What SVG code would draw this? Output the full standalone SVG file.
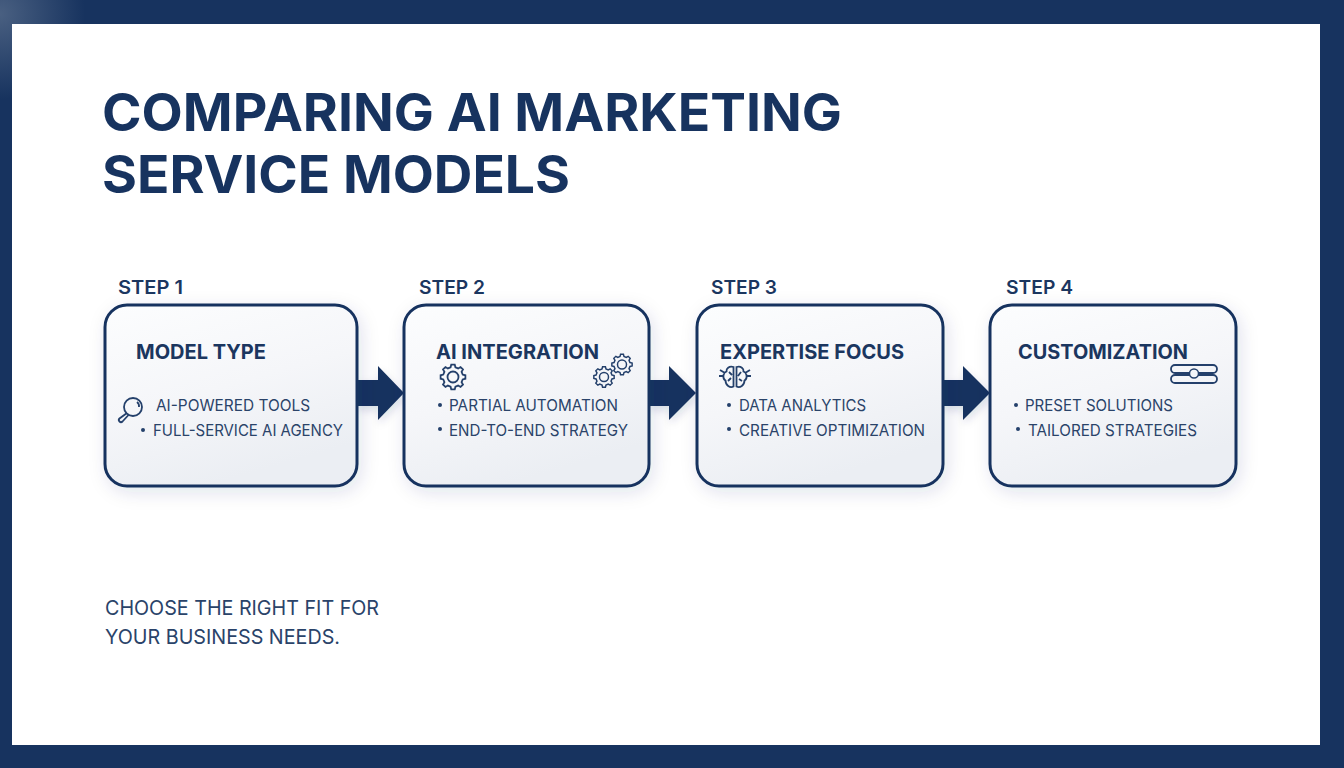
<svg xmlns="http://www.w3.org/2000/svg" width="1344" height="768" viewBox="0 0 1344 768">
<style>
text{font-family:"Inter","Noto Sans","Liberation Sans",sans-serif;fill:#1b365f}
.title{font-size:52px;font-weight:700;fill:#17335f}
.step{font-size:19px;font-weight:600}
.head{font-size:20px;font-weight:700}
.item{font-size:16px;font-weight:400;fill:#2a4369}
.foot{font-size:20px;font-weight:400;fill:#2a4369}
.card{fill:url(#cardFill);stroke:#17335f;stroke-width:3;filter:url(#soft)}
.ico{fill:none;stroke:#24406b;stroke-width:1.8}
.arrow{fill:#17335f;filter:url(#arrowSoft)}
.dot{fill:#24406b}
</style>
<defs>
<linearGradient id="cardFill" x1="0" y1="0" x2="0.4" y2="1"><stop offset="0" stop-color="#fcfdfe"/><stop offset="0.55" stop-color="#f5f6f9"/><stop offset="1" stop-color="#ebeef3"/></linearGradient>
<radialGradient id="glow" gradientUnits="userSpaceOnUse" cx="0" cy="14" r="85"><stop offset="0" stop-color="#5f7390" stop-opacity="0.7"/><stop offset="1" stop-color="#5f7390" stop-opacity="0"/></radialGradient>
<filter id="soft" x="-15%" y="-15%" width="130%" height="130%"><feDropShadow dx="3" dy="5" stdDeviation="9" flood-color="#17335f" flood-opacity="0.12"/></filter>
<filter id="arrowSoft" x="-20%" y="-20%" width="140%" height="150%"><feDropShadow dx="1" dy="4" stdDeviation="4" flood-color="#17335f" flood-opacity="0.15"/></filter>
<g id="gear"><path class="ico" d="M9.7-2.42L12.38-1.74V1.74L9.7 2.42L8.57 5.15L9.98 7.52L7.52 9.98L5.15 8.57L2.42 9.7L1.74 12.38H-1.74L-2.42 9.7L-5.15 8.57L-7.52 9.98L-9.98 7.52L-8.57 5.15L-9.7 2.42L-12.38 1.74V-1.74L-9.7-2.42L-8.57-5.15L-9.98-7.52L-7.52-9.98L-5.15-8.57L-2.42-9.7L-1.74-12.38H1.74L2.42-9.7L5.15-8.57L7.52-9.98L9.98-7.52L8.57-5.15Z"/><circle r="5.5" class="ico"/></g>
</defs>
<rect width="1344" height="768" fill="#17335f"/>
<rect width="90" height="100" fill="url(#glow)"/>
<rect x="12" y="24" width="1308" height="721" fill="#fff"/>
<g id="title"><text class="title" x="102" y="131" textLength="740" lengthAdjust="spacingAndGlyphs">COMPARING AI MARKETING</text><text class="title" x="102" y="193" textLength="468" lengthAdjust="spacingAndGlyphs">SERVICE MODELS</text></g>
<g id="connectors">
<path class="arrow" d="M357 380H378V366L404 393L378 420V406H357Z"/>
<path class="arrow" d="M650 380H669V366L696 393L669 420V406H650Z"/>
<path class="arrow" d="M943 380H963V366L990 393L963 420V406H943Z"/>
</g>
<g id="node1"><text class="step" x="118" y="294" textLength="65" lengthAdjust="spacingAndGlyphs">STEP 1</text><rect class="card" x="105" y="305" width="252" height="181" rx="22"/><text class="head" x="136" y="359" textLength="130" lengthAdjust="spacingAndGlyphs">MODEL TYPE</text>
<circle cx="133" cy="407" r="9" class="ico"/><path class="ico" d="M137 402A5.500 5.500 0 0 1 139 407"/><path class="ico" d="M127 413L119.500 418.500Q118 420 119.500 421.500Q121 423 122.500 421.500L128.500 415"/>
<text class="item" x="156" y="411" textLength="154" lengthAdjust="spacingAndGlyphs">AI-POWERED TOOLS</text><circle class="dot" cx="143" cy="430" r="2"/><text class="item" x="153" y="435.500" textLength="190" lengthAdjust="spacingAndGlyphs">FULL-SERVICE AI AGENCY</text></g>
<g id="node2"><text class="step" x="419" y="294" textLength="66" lengthAdjust="spacingAndGlyphs">STEP 2</text><rect class="card" x="404" y="305" width="245" height="181" rx="22"/><text class="head" x="436" y="359" textLength="163" lengthAdjust="spacingAndGlyphs">AI INTEGRATION</text>
<use href="#gear" x="453" y="377"/><use href="#gear" transform="translate(604 377) scale(.82)"/><use href="#gear" transform="translate(622 364.500) scale(.82)"/>
<circle class="dot" cx="440" cy="405" r="2"/><text class="item" x="449" y="411" textLength="169" lengthAdjust="spacingAndGlyphs">PARTIAL AUTOMATION</text><circle class="dot" cx="440" cy="429" r="2"/><text class="item" x="449" y="435.500" textLength="179" lengthAdjust="spacingAndGlyphs">END-TO-END STRATEGY</text></g>
<g id="node3"><text class="step" x="711" y="294" textLength="66" lengthAdjust="spacingAndGlyphs">STEP 3</text><rect class="card" x="697" y="305" width="246" height="181" rx="22"/><text class="head" x="720" y="359" textLength="184" lengthAdjust="spacingAndGlyphs">EXPERTISE FOCUS</text>
<path class="ico" d="M733.500 367C729 365.500 726 369 726.500 371.500C722.500 373 722.500 379 725.500 380.500C725.500 385 730 388.500 733.500 386.500ZM736.500 367C741 365.500 744 369 743.500 371.500C747.500 373 747.500 379 744.500 380.500C744.500 385 740 388.500 736.500 386.500ZM724 376H719M746 376H751M720 370L725 373M750 370L745 373M729 372L732 375M741 372L738 376M728 381L731 378M742 381L739 379"/>
<circle class="dot" cx="729" cy="405" r="2"/><text class="item" x="739" y="411" textLength="127" lengthAdjust="spacingAndGlyphs">DATA ANALYTICS</text><circle class="dot" cx="729" cy="429" r="2"/><text class="item" x="739" y="435.500" textLength="186" lengthAdjust="spacingAndGlyphs">CREATIVE OPTIMIZATION</text></g>
<g id="node4"><text class="step" x="1006" y="294" textLength="67" lengthAdjust="spacingAndGlyphs">STEP 4</text><rect class="card" x="990" y="305" width="246" height="181" rx="22"/><text class="head" x="1018" y="359" textLength="170" lengthAdjust="spacingAndGlyphs">CUSTOMIZATION</text>
<rect class="ico" x="1171" y="365" width="46" height="8" rx="4"/><rect class="ico" x="1171" y="375" width="46" height="8" rx="4"/><circle cx="1194" cy="373.500" r="4.500" fill="#f3f5f8" stroke="#24406b" stroke-width="1.5"/>
<circle class="dot" cx="1016" cy="405" r="2"/><text class="item" x="1025" y="411" textLength="148" lengthAdjust="spacingAndGlyphs">PRESET SOLUTIONS</text><circle class="dot" cx="1018" cy="429" r="2"/><text class="item" x="1028" y="435.500" textLength="169" lengthAdjust="spacingAndGlyphs">TAILORED STRATEGIES</text></g>
<g id="footer"><text class="foot" x="105" y="615" textLength="274" lengthAdjust="spacingAndGlyphs">CHOOSE THE RIGHT FIT FOR</text><text class="foot" x="105" y="644" textLength="235" lengthAdjust="spacingAndGlyphs">YOUR BUSINESS NEEDS.</text></g>
</svg>
